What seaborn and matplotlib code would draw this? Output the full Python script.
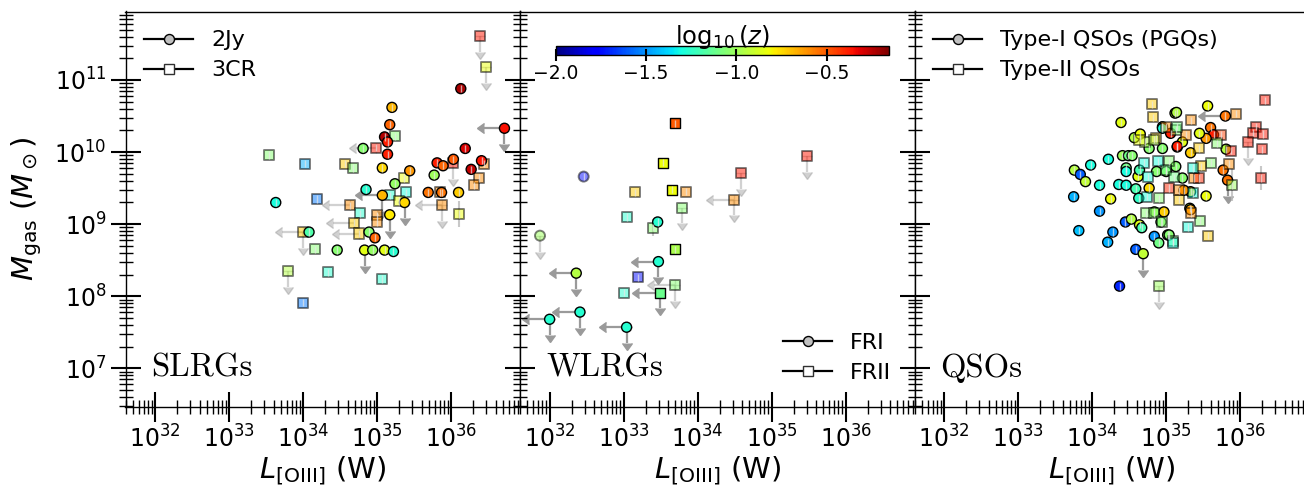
import numpy as np
import pandas as pd
import matplotlib
matplotlib.use("Agg")
import matplotlib.pyplot as plt
import seaborn as sns
from matplotlib.lines import Line2D
from matplotlib.colors import Normalize
from matplotlib.cm import ScalarMappable
from matplotlib.ticker import NullFormatter

# values: log10 L[OIII] (W), log10 Mgas (Msun), log10 z,
# upper-limit flags in Mgas (uly) and in L[OIII] (ulx)

# --- SLRGs: 2Jy (circles, solid) ---
slrg_2jy_L = [35.20, 35.17, 35.10, 35.14, 35.14, 34.81, 35.07, 35.44, 35.24, 34.85,
              35.07, 35.37, 35.17, 33.63, 34.08, 34.89, 34.97, 34.46, 34.83, 34.94,
              35.10, 35.22, 36.13, 36.72, 36.19, 35.81, 35.89, 36.03, 36.41, 36.27,
              35.77, 35.69, 35.87, 36.10]
slrg_2jy_M = [10.62, 10.38, 10.21, 10.14, 9.97, 10.05, 9.78, 9.74, 9.56, 9.48,
              9.40, 9.30, 9.13, 9.30, 8.89, 8.89, 8.81, 8.64, 8.64, 8.64,
              8.64, 8.62, 10.88, 10.33, 10.05, 9.85, 9.81, 9.90, 9.88, 9.76,
              9.68, 9.44, 9.44, 9.44]
slrg_2jy_z = [-0.68, -0.52, -0.24, -0.38, -0.38, -1.05, -0.74, -0.62, -1.02, -1.27,
              -0.68, -0.74, -0.78, -1.30, -1.18, -1.05, -0.52, -1.05, -0.85, -1.02,
              -0.85, -1.27, -0.22, -0.35, -0.30, -0.38, -0.52, -0.50, -0.36, -0.27,
              -1.00, -0.55, -0.55, -0.72]
slrg_2jy_uly = [0, 0, 0, 0, 0, 0, 0, 0, 0, 0, 1, 1, 1, 0, 0, 0, 0, 0, 1, 0,
                0, 0, 0, 1, 0, 0, 0, 0, 0, 0, 0, 0, 0, 0]
slrg_2jy_ulx = [0, 0, 0, 0, 0, 0, 0, 0, 0, 0, 1, 0, 0, 0, 0, 0, 0, 0, 0, 0,
                0, 0, 0, 1, 0, 0, 0, 0, 0, 0, 0, 0, 0, 0]

# --- SLRGs: 3CR (squares, translucent) ---
slrg_3cr_L = [36.39, 36.47, 33.54, 34.02, 34.56, 34.67, 34.99, 35.24, 35.36, 35.18,
              35.39, 34.19, 34.63, 34.77, 35.00, 35.00, 34.69, 35.29, 34.76, 34.00,
              34.16, 33.80, 34.33, 35.07, 34.00, 35.88, 36.10, 36.03, 35.85, 36.45,
              36.38, 36.31]
slrg_3cr_M = [11.61, 11.18, 9.96, 9.84, 9.84, 9.78, 10.06, 10.22, 9.64, 9.40,
              9.44, 9.35, 9.26, 9.15, 9.12, 9.03, 9.02, 9.32, 8.87, 8.89,
              8.65, 8.35, 8.33, 8.24, 7.91, 9.27, 9.14, 9.85, 9.44, 9.84,
              9.64, 9.54]
slrg_3cr_z = [-0.37, -0.83, -1.05, -1.45, -0.72, -1.05, -0.37, -1.05, -0.82, -1.27,
              -1.30, -1.55, -0.60, -1.27, -0.60, -0.60, -0.72, -0.82, -0.72, -0.72,
              -1.05, -0.95, -1.27, -1.27, -1.55, -0.60, -0.82, -0.37, -0.60, -0.60,
              -0.60, -0.60]
slrg_3cr_uly = [1, 1, 0, 0, 0, 0, 0, 0, 0, 0, 0, 0, 0, 0, 0, 0, 0, 0, 0, 1,
                0, 1, 0, 0, 0, 1, 0, 1, 0, 0, 0, 0]
slrg_3cr_ulx = [0, 0, 0, 0, 0, 0, 1, 0, 0, 0, 0, 0, 1, 0, 0, 0, 1, 0, 1, 1,
                0, 0, 0, 0, 0, 1, 0, 0, 0, 0, 0, 0]

# --- WLRGs ---
fri_2jy_L = [33.46, 33.47, 32.36, 32.41, 32.00, 33.04]
fri_2jy_M = [9.03, 8.48, 8.32, 7.78, 7.68, 7.57]
fri_2jy_z = [-1.27, -1.27, -0.95, -1.27, -1.27, -1.27]
fri_2jy_uly = [0, 1, 1, 1, 1, 1]
fri_2jy_ulx = [0, 1, 1, 1, 1, 1]

fri_3cr_L = [32.46, 31.87]
fri_3cr_M = [9.66, 8.84]
fri_3cr_z = [-1.75, -1.00]
fri_3cr_uly = [0, 1]
fri_3cr_ulx = [0, 0]

frii_2jy_L = [33.69, 33.53, 33.65, 33.69, 33.49]
frii_2jy_M = [10.40, 9.85, 9.48, 8.65, 8.05]
frii_2jy_z = [-0.50, -0.82, -0.82, -0.97, -1.12]
frii_2jy_uly = [0, 0, 0, 0, 1]
frii_2jy_ulx = [0, 0, 0, 0, 1]

frii_3cr_L = [33.15, 33.84, 33.79, 33.04, 33.40, 33.19, 33.69, 33.01, 34.59, 34.49, 35.48]
frii_3cr_M = [9.44, 9.45, 9.23, 9.10, 8.95, 8.26, 8.15, 8.05, 9.71, 9.34, 9.95]
frii_3cr_z = [-0.72, -0.60, -1.05, -1.27, -1.05, -1.75, -1.05, -1.27, -0.37, -0.60, -0.37]
frii_3cr_uly = [0, 0, 1, 0, 0, 0, 1, 0, 1, 1, 1]
frii_3cr_ulx = [0, 0, 0, 0, 0, 0, 1, 0, 0, 1, 0]

# --- QSOs: Type-I (PGQs, circles, solid) ---
qso1_L = [34.39, 34.57, 34.65, 33.76, 33.84, 33.91, 33.98, 34.22, 34.41, 34.49,
          34.54, 33.75, 34.10, 34.36, 34.46, 34.46, 34.46, 34.59, 34.62, 34.25,
          34.10, 34.63, 33.82, 34.28, 34.21, 34.45, 34.53, 34.64, 34.67, 34.84,
          34.90, 35.02, 34.59, 34.69, 34.37, 34.84, 34.97, 34.93, 34.64, 34.77,
          34.87, 35.00, 35.12, 34.95, 35.56, 35.14, 35.80, 35.60, 35.64, 35.54,
          35.45, 35.15, 35.33, 35.81, 35.77, 35.83, 35.54, 35.32, 35.33, 35.04,
          35.22, 35.33, 35.06, 35.22, 34.95, 35.15, 35.24, 34.95, 34.77, 35.13]
qso1_M = [10.41, 10.20, 10.25, 9.75, 9.69, 9.59, 9.82, 9.90, 9.95, 9.95,
          9.95, 9.38, 9.54, 9.55, 9.54, 9.78, 9.73, 9.49, 9.66, 9.35,
          9.18, 9.36, 8.91, 8.89, 8.75, 9.03, 9.07, 8.99, 8.95, 8.83,
          8.74, 8.85, 8.65, 8.59, 8.14, 9.17, 9.17, 9.03, 9.75, 9.50,
          9.73, 9.73, 10.54, 10.35, 10.64, 10.55, 10.50, 10.34, 10.24, 10.19,
          10.26, 10.07, 9.99, 10.04, 9.75, 9.61, 9.39, 9.22, 9.20, 8.85,
          9.64, 9.45, 10.26, 10.14, 10.05, 10.08, 9.47, 10.33, 10.05, 9.80]
qso1_z = [-0.85, -0.95, -0.82, -0.95, -1.60, -0.92, -1.30, -1.30, -1.00, -1.10,
          -1.05, -1.45, -1.30, -1.30, -1.30, -1.10, -1.30, -1.20, -0.85, -0.82,
          -1.50, -1.25, -1.42, -1.50, -1.45, -1.60, -0.95, -0.85, -1.20, -1.50,
          -1.10, -1.00, -1.60, -0.92, -1.70, -1.00, -0.72, -1.05, -1.20, -0.75,
          -1.05, -1.05, -0.92, -1.25, -0.82, -0.95, -0.55, -0.55, -0.38, -0.62,
          -0.85, -0.42, -0.72, -0.95, -0.55, -0.55, -0.82, -0.95, -0.65, -1.05,
          -1.05, -0.70, -0.38, -0.85, -1.05, -0.38, -0.62, -1.30, -1.05, -1.05]
qso1_uly = [0] * 33 + [1] + [0] * 21 + [1] + [0] * 14
qso1_ulx = [0] * 46 + [1] + [0] * 23

# --- QSOs: Type-II (squares, translucent) ---
qso2_L = [34.81, 34.82, 34.73, 35.09, 34.91, 34.76, 34.91, 34.72, 34.86, 35.00,
          35.04, 35.04, 34.70, 36.34, 35.94, 35.33, 36.22, 36.18, 36.31, 36.11,
          36.29, 36.28, 35.89, 35.60, 35.85, 35.87, 35.74, 35.69, 35.47, 35.44,
          35.18, 35.29, 35.46, 35.57, 35.09, 35.36, 35.38, 35.27, 35.13, 35.18,
          35.44, 35.36, 34.83, 35.00, 35.11, 34.74, 34.83, 34.95, 35.33, 35.15,
          34.64, 34.89]
qso2_M = [10.66, 10.48, 9.15, 8.76, 8.14, 9.66, 9.36, 10.14, 10.19, 10.35,
          9.50, 9.87, 9.85, 10.72, 10.53, 10.44, 10.35, 10.27, 10.25, 10.14,
          10.04, 9.64, 9.54, 9.85, 9.84, 10.02, 10.24, 10.12, 9.80, 10.05,
          9.34, 8.96, 9.05, 8.84, 8.74, 9.43, 9.64, 10.24, 10.31, 9.47,
          9.64, 9.78, 10.17, 9.75, 9.65, 9.38, 9.15, 9.03, 9.15, 10.35,
          10.17, 9.87]
qso2_z = [-0.72, -0.72, -1.05, -1.10, -1.00, -1.30, -1.05, -0.95, -0.72, -0.60,
          -0.40, -1.05, -1.30, -0.37, -0.60, -0.60, -0.37, -0.37, -0.37, -0.37,
          -0.37, -0.37, -1.00, -1.05, -0.60, -0.37, -0.45, -1.05, -0.72, -0.72,
          -0.72, -1.30, -1.05, -0.72, -1.30, -1.30, -0.60, -0.60, -1.05, -0.60,
          -0.40, -1.30, -0.95, -1.10, -1.10, -1.30, -1.05, -1.05, -0.60, -1.10,
          -0.82, -1.30]
qso2_uly = [0, 0, 0, 0, 1] + [0] * 14 + [1] + [0] * 32
qso2_ulx = [0] * 52

# a few sources with clearly visible Mgas error bars (log L, log M, dex)
slrg_bigerr = [(36.10, 9.14, 0.18)]
wlrg_bigerr = [(33.40, 8.95, 0.12)]
qso_bigerr = [(36.28, 9.64, 0.17), (35.89, 9.54, 0.22)]

ZMIN, ZMAX = -2.0, -0.155
norm = Normalize(ZMIN, ZMAX)
cmap = matplotlib.colormaps['jet']

plt.rcParams['font.family'] = ['DejaVu Sans']
plt.rcParams['mathtext.fontset'] = 'dejavusans'


def grey_errorbar(ax, x, y, col, alpha, zorder, **kw):
    eb = ax.errorbar(x, y, fmt='none', ecolor=col, color=col, alpha=alpha,
                     zorder=zorder, **kw)
    for art in list(eb.lines[1]) + list(eb.lines[2]):
        art.set_color(col)
        art.set_alpha(alpha)
    return eb


def plot_group(ax, L, M, z, uly, ulx, marker, solid):
    L = 10 ** np.asarray(L, float)
    M = 10 ** np.asarray(M, float)
    uly = np.asarray(uly, bool)
    ulx = np.asarray(ulx, bool)
    a = 1.0 if solid else 0.45
    if uly.any():
        grey_errorbar(ax, L[uly], M[uly], '#9a9a9a', a, 1,
                      yerr=M[uly] * (1 - 10 ** -0.22), uplims=True,
                      elinewidth=1.6, capsize=3.3)
    if ulx.any():
        grey_errorbar(ax, L[ulx], M[ulx], '#9a9a9a', a, 1,
                      xerr=L[ulx] * (1 - 10 ** -0.28), xuplims=True,
                      elinewidth=1.6, capsize=3.3)
    df = pd.DataFrame({'L': L, 'M': M, 'z': z})
    sns.scatterplot(data=df, x='L', y='M', hue='z', palette=cmap, hue_norm=norm,
                    marker=marker, s=52, edgecolor='k',
                    linewidth=1.0 if solid else 1.4,
                    alpha=1.0 if solid else 0.5, legend=False, ax=ax, zorder=3)
    det = ~uly
    grey_errorbar(ax, L[det], M[det], '#e6e6e6', 0.7, 4,
                  yerr=[M[det] * (1 - 10 ** -0.05), M[det] * (10 ** 0.05 - 1)],
                  elinewidth=1.0, capsize=0)


def plot_bigerr(ax, pts):
    for lx, ly, d in pts:
        grey_errorbar(ax, [10 ** lx], [10 ** ly], '#bbbbbb', 0.8, 2,
                      yerr=[[10 ** ly * (1 - 10 ** -d)], [10 ** ly * (10 ** d - 1)]],
                      elinewidth=1.5, capsize=0)


W, H = 1304, 487
fig = plt.figure(figsize=(W / 100, H / 100), dpi=100)
bottom = (H - 406.5) / H
height = 395 / H
axes = [fig.add_axes([x0 / W, bottom, 394.5 / W, height]) for x0 in (125.5, 520, 914.5)]

for ax in axes:
    ax.set_xscale('log')
    ax.set_yscale('log')

ax1, ax2, ax3 = axes

plot_group(ax1, slrg_3cr_L, slrg_3cr_M, slrg_3cr_z, slrg_3cr_uly, slrg_3cr_ulx, 's', False)
plot_group(ax1, slrg_2jy_L, slrg_2jy_M, slrg_2jy_z, slrg_2jy_uly, slrg_2jy_ulx, 'o', True)
plot_bigerr(ax1, slrg_bigerr)

plot_group(ax2, fri_3cr_L, fri_3cr_M, fri_3cr_z, fri_3cr_uly, fri_3cr_ulx, 'o', False)
plot_group(ax2, frii_3cr_L, frii_3cr_M, frii_3cr_z, frii_3cr_uly, frii_3cr_ulx, 's', False)
plot_group(ax2, fri_2jy_L, fri_2jy_M, fri_2jy_z, fri_2jy_uly, fri_2jy_ulx, 'o', True)
plot_group(ax2, frii_2jy_L, frii_2jy_M, frii_2jy_z, frii_2jy_uly, frii_2jy_ulx, 's', True)
plot_bigerr(ax2, wlrg_bigerr)

plot_group(ax3, qso1_L, qso1_M, qso1_z, qso1_uly, qso1_ulx, 'o', True)
plot_group(ax3, qso2_L, qso2_M, qso2_z, qso2_uly, qso2_ulx, 's', False)
plot_bigerr(ax3, qso_bigerr)

for ax, name in zip(axes, ['SLRGs', 'WLRGs', 'QSOs']):
    ax.set_xlim(10 ** 31.6, 10 ** 36.93)
    ax.set_ylim(10 ** 6.47, 10 ** 11.95)
    ax.tick_params(which='major', direction='inout', length=21.6, width=1.5,
                   labelsize=17, top=False, right=False, pad=3)
    ax.tick_params(which='minor', direction='inout', length=9.5, width=1.0,
                   top=False, right=False)
    ax.xaxis.set_minor_formatter(NullFormatter())
    ax.yaxis.set_minor_formatter(NullFormatter())
    for sp in ax.spines.values():
        sp.set_linewidth(1.0)
    ax.set_xlabel(r'$L_{\rm [OIII]}$ (W)', fontsize=21)
    ax.xaxis.set_label_coords(0.5, -0.12)
    ax.set_ylabel('')
    ax.text(0.066, 0.075, name, transform=ax.transAxes, fontsize=23.5,
            family='cmr10', va='baseline', ha='left')

ax1.set_ylabel(r'$M_{\rm gas}\ (M_\odot)$', fontsize=21)
ax1.yaxis.set_label_coords(-0.207, 0.5)
for ax in (ax2, ax3):
    ax.tick_params(which='both', labelleft=False)

# legends
h_circ = Line2D([], [], color='k', lw=1.6, marker='o', ms=7.2,
                mfc='#c0c0c0', mec='k', mew=1)
h_sq = Line2D([], [], color='k', lw=1.6, marker='s', ms=6.8,
              mfc='w', mec='#303030', mew=1)
leg_kw = dict(frameon=False, fontsize=16, handlelength=2.2,
              handletextpad=0.8, labelspacing=0.45)
ax1.legend([h_circ, h_sq], ['2Jy', '3CR'], loc='upper left', borderaxespad=0.45, **leg_kw)
ax2.legend([h_circ, h_sq], ['FRI', 'FRII'], loc='lower right', borderaxespad=0.65, **leg_kw)
ax3.legend([h_circ, h_sq], ['Type-I QSOs (PGQs)', 'Type-II QSOs'], loc='upper left',
           borderaxespad=0.45, **leg_kw)

# colour bar for redshift
cax = fig.add_axes([555.7 / W, (H - 55) / H, 333.3 / W, 9.3 / H])
cb = fig.colorbar(ScalarMappable(norm=norm, cmap=cmap), cax=cax,
                  orientation='horizontal', ticks=[-2.0, -1.5, -1.0, -0.5])
cb.set_label(r'$\log_{10}(z)$', fontsize=17.5, labelpad=1)
cax.xaxis.set_label_position('top')
cax.tick_params(direction='inout', length=9, width=1.5, labelsize=13.5, pad=2)
cb.outline.set_linewidth(1.0)

fig.savefig('out.png', dpi=100)
